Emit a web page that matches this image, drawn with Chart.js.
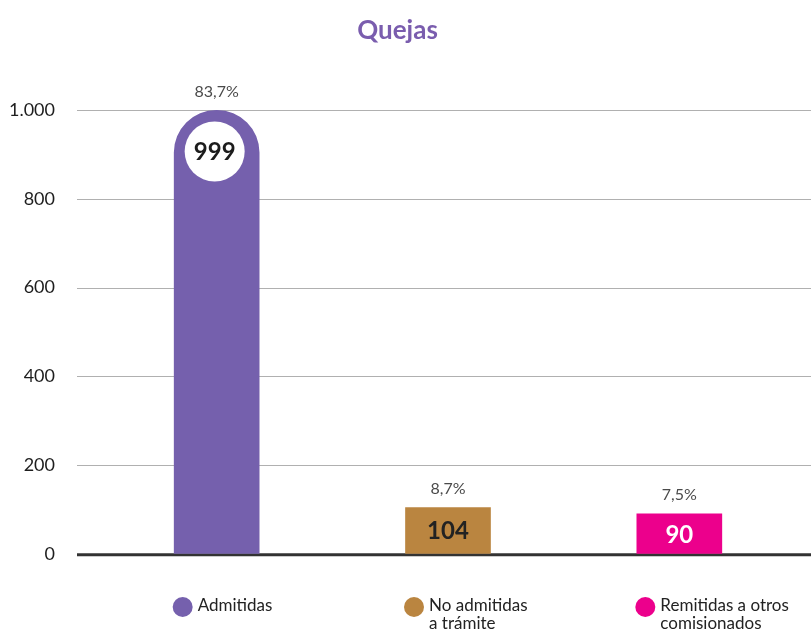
<!DOCTYPE html>
<html lang="es">
<head>
<meta charset="utf-8">
<title>Quejas</title>
<script src="https://cdn.jsdelivr.net/npm/chart.js@4.4.1/dist/chart.umd.min.js"></script>
<style>
  html, body { margin: 0; padding: 0; background: #ffffff; }
  #wrap { width: 811px; height: 633px; position: relative; }
</style>
</head>
<body>
<div id="wrap"><canvas id="chart"></canvas></div>
<script>
// Complaint counts by outcome
const categories = ['Admitidas', 'No admitidas a trámite', 'Remitidas a otros comisionados'];
const legendLines = [['Admitidas'], ['No admitidas', 'a trámite'], ['Remitidas a otros', 'comisionados']];
const values = [999, 104, 90];
const shares = ['83,7%', '8,7%', '7,5%'];
const yTickLabels = ['0', '200', '400', '600', '800', '1.000'];

const colors = ['#7560AD', '#BA8540', '#EC008C'];
const valueTextColors = ['#1c1c1c', '#222222', '#ffffff'];
const FONT = 'Lato, "Open Sans", sans-serif';

// Horizontal rules spanning the full width, thick baseline at zero
const ruleLines = {
  id: 'ruleLines',
  beforeDatasetsDraw(chart) {
    const y = chart.scales.y;
    const ctx = chart.ctx;
    ctx.save();
    y.ticks.forEach(t => {
      const py = y.getPixelForValue(t.value);
      ctx.beginPath();
      if (t.value === 0) {
        ctx.strokeStyle = '#333333';
        ctx.lineWidth = 3;
        ctx.moveTo(77, py + 1);
        ctx.lineTo(811, py + 1);
      } else {
        ctx.strokeStyle = '#b0b0b0';
        ctx.lineWidth = 1;
        ctx.moveTo(77, Math.round(py) + 0.5);
        ctx.lineTo(811, Math.round(py) + 0.5);
      }
      ctx.stroke();
    });
    ctx.restore();
  }
};

// Share above each bar, count inside it, category key below
const barLabels = {
  id: 'barLabels',
  afterDatasetsDraw(chart) {
    const ctx = chart.ctx;
    const meta = chart.getDatasetMeta(0);
    ctx.save();
    meta.data.forEach((bar, i) => {
      // share
      ctx.font = '16px ' + FONT;
      ctx.fillStyle = '#4a4a4a';
      ctx.textAlign = 'center';
      ctx.textBaseline = 'middle';
      ctx.fillText(shares[i], bar.x, bar.y - 19);

      // count
      ctx.font = 'bold 24px ' + FONT;
      if (i === 0) {
        const cy = bar.y + 41;
        ctx.beginPath();
        ctx.arc(bar.x - 2, cy, 30, 0, Math.PI * 2);
        ctx.fillStyle = '#ffffff';
        ctx.fill();
        ctx.fillStyle = valueTextColors[i];
        ctx.fillText(String(values[i]), bar.x - 2, cy + 1);
      } else {
        ctx.fillStyle = valueTextColors[i];
        ctx.fillText(String(values[i]), bar.x, (bar.y + bar.base) / 2 + 1);
      }

      // key
      const cx = bar.x - 34;
      ctx.beginPath();
      ctx.arc(cx, 607, 10, 0, Math.PI * 2);
      ctx.fillStyle = colors[i];
      ctx.fill();
      ctx.font = '17px ' + FONT;
      ctx.fillStyle = '#222222';
      ctx.textAlign = 'left';
      legendLines[i].forEach((line, k) => {
        ctx.fillText(line, cx + 15, 606 + k * 18);
      });
    });
    ctx.restore();
  }
};

new Chart(document.getElementById('chart'), {
  type: 'bar',
  data: {
    labels: categories,
    datasets: [{
      data: values,
      backgroundColor: colors,
      borderWidth: 0,
      barThickness: 85,
      borderSkipped: 'start',
      borderRadius: ctx => ctx.dataIndex === 0
        ? { topLeft: 42.5, topRight: 42.5, bottomLeft: 0, bottomRight: 0 }
        : 0
    }]
  },
  options: {
    responsive: true,
    maintainAspectRatio: false,
    animation: false,
    events: [],
    layout: { padding: { left: 0, right: 16, top: 0, bottom: 79.25 } },
    plugins: {
      legend: { display: false },
      tooltip: { enabled: false },
      title: {
        display: true,
        text: 'Quejas',
        color: '#7A5DAE',
        font: { family: FONT, size: 26, weight: 'bold' },
        padding: { top: 15, bottom: 63.8 }
      }
    },
    scales: {
      x: {
        display: false,
        grid: { display: false }
      },
      y: {
        min: 0,
        max: 1000,
        border: { display: false },
        grid: { display: false, drawTicks: false },
        ticks: {
          stepSize: 200,
          padding: 46,
          color: '#1e1e1e',
          font: { family: FONT, size: 18 },
          callback: (v, i) => yTickLabels[i]
        },
        afterFit(scale) { scale.width = 101; }
      }
    }
  },
  plugins: [ruleLines, barLabels]
});
</script>
</body>
</html>
